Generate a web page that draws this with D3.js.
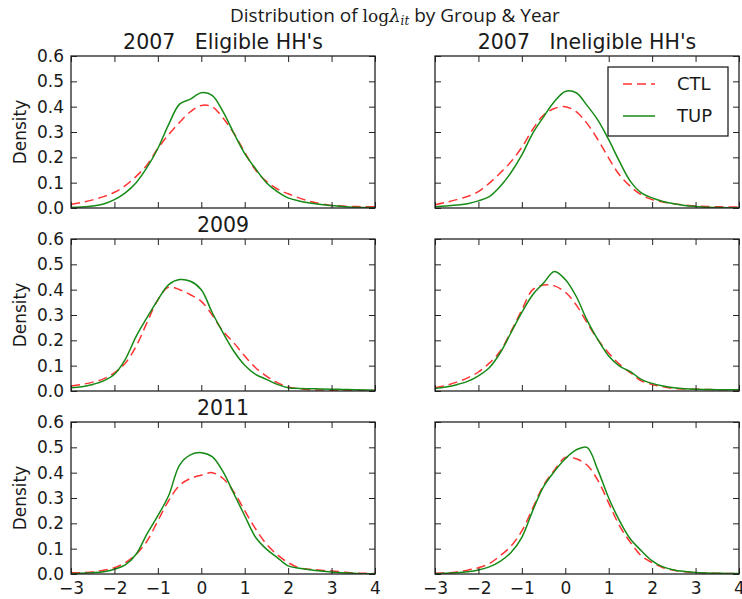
<!DOCTYPE html>
<html>
<head>
<meta charset="utf-8">
<script src="https://cdn.jsdelivr.net/npm/d3@7"></script>
<style>
  body { margin: 0; background: #fff; }
  svg { display: block; }
  text { fill: #1a1a1a; white-space: pre; }
</style>
</head>
<body>
<div id="chart"></div>
<script>
// log lambda values where the densities were read
var xs = [-3, -2.75, -2.5, -2.25, -2, -1.75, -1.5, -1.25, -1, -0.75, -0.5, -0.25, 0,
          0.25, 0.5, 0.75, 1, 1.25, 1.5, 1.75, 2, 2.25, 2.5, 2.75, 3, 3.25, 3.5, 3.75, 4];

var yTicks = [0, 0.1, 0.2, 0.3, 0.4, 0.5, 0.6];
var xTicks = [-3, -2, -1, 0, 1, 2, 3, 4];
var seriesNames = ["CTL", "TUP"];
var panelTitles = ["2007\u00a0\u00a0\u00a0Eligible HH's", "2007\u00a0\u00a0\u00a0Ineligible HH's", "2009", "", "2011", ""];

// densities, one array per group / year / arm
var ctl2007Elig = [0.015, 0.022, 0.032, 0.045, 0.062, 0.088, 0.125, 0.17, 0.235, 0.29, 0.338, 0.38, 0.405,
                   0.40, 0.355, 0.295, 0.22, 0.15, 0.105, 0.075, 0.056, 0.04, 0.026, 0.017, 0.01, 0.008, 0.006, 0.005, 0.005];
var tup2007Elig = [0.002, 0.004, 0.008, 0.016, 0.033, 0.06, 0.1, 0.16, 0.235, 0.33, 0.41, 0.43, 0.455,
                   0.445, 0.38, 0.295, 0.215, 0.155, 0.1, 0.065, 0.04, 0.028, 0.02, 0.014, 0.01, 0.006, 0.003, 0.002, 0.001];

var ctl2007Inel = [0.013, 0.022, 0.033, 0.046, 0.065, 0.098, 0.138, 0.183, 0.24, 0.31, 0.367, 0.393, 0.40,
                   0.38, 0.334, 0.27, 0.197, 0.13, 0.085, 0.052, 0.033, 0.024, 0.017, 0.012, 0.008, 0.006, 0.005, 0.004, 0.004];
var tup2007Inel = [0.005, 0.008, 0.012, 0.017, 0.028, 0.045, 0.085, 0.14, 0.21, 0.295, 0.36, 0.42, 0.46,
                   0.455, 0.405, 0.347, 0.27, 0.183, 0.105, 0.06, 0.04, 0.026, 0.017, 0.01, 0.006, 0.003, 0.002, 0.001, 0.001];

var ctl2009Elig = [0.02, 0.026, 0.035, 0.048, 0.072, 0.11, 0.177, 0.27, 0.36, 0.41, 0.40, 0.38, 0.354,
                   0.30, 0.236, 0.19, 0.138, 0.092, 0.059, 0.033, 0.016, 0.009, 0.005, 0.004, 0.003, 0.003, 0.002, 0.002, 0.002];
var tup2009Elig = [0.013, 0.017, 0.026, 0.04, 0.066, 0.125, 0.216, 0.29, 0.36, 0.42, 0.44, 0.433, 0.40,
                   0.31, 0.23, 0.157, 0.102, 0.066, 0.046, 0.026, 0.013, 0.01, 0.009, 0.008, 0.007, 0.006, 0.005, 0.004, 0.003];

var ctl2009Inel = [0.013, 0.022, 0.035, 0.052, 0.075, 0.11, 0.157, 0.235, 0.32, 0.40, 0.418, 0.415, 0.39,
                   0.34, 0.27, 0.203, 0.15, 0.105, 0.072, 0.04, 0.026, 0.017, 0.01, 0.008, 0.007, 0.006, 0.005, 0.004, 0.004];
var tup2009Inel = [0.01, 0.016, 0.025, 0.038, 0.06, 0.092, 0.15, 0.23, 0.31, 0.38, 0.426, 0.472, 0.44,
                   0.374, 0.28, 0.203, 0.138, 0.098, 0.076, 0.046, 0.03, 0.02, 0.013, 0.009, 0.007, 0.006, 0.005, 0.005, 0.005];

var ctl2011Elig = [0.005, 0.005, 0.008, 0.015, 0.025, 0.045, 0.078, 0.13, 0.21, 0.29, 0.35, 0.377, 0.39,
                   0.40, 0.377, 0.324, 0.25, 0.178, 0.118, 0.076, 0.045, 0.025, 0.019, 0.015, 0.012, 0.008, 0.004, 0.003, 0.002];
var tup2011Elig = [0.001, 0.003, 0.005, 0.009, 0.019, 0.036, 0.078, 0.158, 0.23, 0.31, 0.43, 0.47, 0.479,
                   0.463, 0.404, 0.317, 0.23, 0.145, 0.098, 0.065, 0.032, 0.023, 0.017, 0.012, 0.008, 0.005, 0.003, 0.001, 0.001];

var ctl2011Inel = [0.003, 0.004, 0.008, 0.015, 0.025, 0.041, 0.072, 0.11, 0.17, 0.26, 0.35, 0.41, 0.46,
                   0.455, 0.43, 0.37, 0.28, 0.19, 0.125, 0.072, 0.045, 0.025, 0.015, 0.009, 0.005, 0.004, 0.003, 0.002, 0.002];
var tup2011Inel = [0.001, 0.003, 0.005, 0.009, 0.016, 0.028, 0.05, 0.085, 0.145, 0.25, 0.345, 0.405, 0.455,
                   0.49, 0.5, 0.41, 0.30, 0.21, 0.138, 0.092, 0.052, 0.028, 0.016, 0.01, 0.006, 0.004, 0.003, 0.002, 0.002];

var panels = [
    [ctl2007Elig, tup2007Elig], [ctl2007Inel, tup2007Inel],
    [ctl2009Elig, tup2009Elig], [ctl2009Inel, tup2009Inel],
    [ctl2011Elig, tup2011Elig], [ctl2011Inel, tup2011Inel]
];

var W = 742, H = 599;
var colLeft = [71, 435], rowTop = [56, 239, 422];
var pw = 304, ph = 152;
var colors = ["#ff3333", "#168a16"];
var dashes = ["9,5", null];

var svg = d3.select("#chart").append("svg")
    .attr("width", W)
    .attr("height", H)
    .style("font-family", "'DejaVu Sans', sans-serif");

// suptitle with the math bit in serif
var title = svg.append("text")
    .attr("x", 230)
    .attr("y", 22)
    .style("font-family", "'Open Sans', sans-serif")
    .style("font-size", "19px");
title.append("tspan").text("Distribution of ");
title.append("tspan").style("font-family", "'DejaVu Serif', serif").style("font-size", "17px").text("log");
title.append("tspan").style("font-family", "'DejaVu Serif', serif").style("font-style", "italic").style("font-size", "18px").text("λ");
title.append("tspan").style("font-family", "'DejaVu Serif', serif").style("font-style", "italic")
    .style("font-size", "12px").attr("dy", 3).text("it");
title.append("tspan").attr("dy", -3).text(" by Group & Year");

var x = d3.scaleLinear().domain([-3, 4]).range([0, pw]);
var y = d3.scaleLinear().domain([0, 0.6]).range([ph, 0]);

var line = d3.line()
    .x(function (d, i) { return x(xs[i]); })
    .y(function (d) { return y(d); })
    .curve(d3.curveCatmullRom.alpha(0.5));

panels.forEach(function (series, p) {
    var row = Math.floor(p / 2), col = p % 2;
    var g = svg.append("g")
        .attr("transform", "translate(" + colLeft[col] + "," + rowTop[row] + ")");

    g.append("defs").append("clipPath").attr("id", "clip" + p)
        .append("rect").attr("width", pw).attr("height", ph);

    // curves
    series.forEach(function (vals, s) {
        g.append("path")
            .datum(vals)
            .attr("clip-path", "url(#clip" + p + ")")
            .attr("fill", "none")
            .attr("stroke", colors[s])
            .attr("stroke-width", 1.5)
            .attr("stroke-dasharray", dashes[s])
            .attr("d", line);
    });

    // inward ticks on all four sides
    var bottom = d3.axisBottom(x).tickValues(xTicks).tickSize(-6).tickPadding(8).tickFormat(d3.format("d"));
    if (row < 2) bottom.tickFormat("");
    g.append("g").attr("class", "ax").attr("transform", "translate(0," + ph + ")").call(bottom);
    g.append("g").attr("class", "ax").call(d3.axisTop(x).tickValues(xTicks).tickSize(-6).tickFormat(""));

    var left = d3.axisLeft(y).tickValues(yTicks).tickSize(-6).tickPadding(7).tickFormat(d3.format(".1f"));
    if (col == 1) left.tickFormat("");
    g.append("g").attr("class", "ax").call(left);
    g.append("g").attr("class", "ax").attr("transform", "translate(" + pw + ",0)")
        .call(d3.axisRight(y).tickValues(yTicks).tickSize(-6).tickFormat(""));

    g.selectAll(".ax .domain").remove();
    g.selectAll(".ax line").attr("stroke", "#222").attr("stroke-width", 1);
    g.selectAll(".ax text").style("font-size", "17px").style("font-family", "'DejaVu Sans', sans-serif").attr("fill", "#1a1a1a");

    g.append("rect")
        .attr("width", pw).attr("height", ph)
        .attr("fill", "none")
        .attr("stroke", "#222")
        .attr("stroke-width", 1.3);

    if (panelTitles[p]) {
        g.append("text")
            .attr("x", pw / 2)
            .attr("y", -7)
            .attr("text-anchor", "middle")
            .style("font-size", "20.5px")
            .text(panelTitles[p]);
    }

    if (col == 0) {
        g.append("text")
            .attr("transform", "translate(" + (20 - colLeft[0]) + "," + (ph / 2) + ") rotate(-90)")
            .attr("text-anchor", "middle")
            .attr("dy", "0.35em")
            .style("font-size", "17px")
            .text("Density");
    }

    // legend in the top right panel
    if (p == 1) {
        var lg = g.append("g").attr("transform", "translate(" + (608 - colLeft[1]) + "," + (67 - rowTop[0]) + ")");
        lg.append("rect").attr("width", 120).attr("height", 69)
            .attr("fill", "#fff").attr("stroke", "#222").attr("stroke-width", 1.3);
        seriesNames.forEach(function (name, s) {
            var ly = 17 + s * 32;
            lg.append("line")
                .attr("x1", 15).attr("x2", 47).attr("y1", ly).attr("y2", ly)
                .attr("stroke", colors[s]).attr("stroke-width", 1.5)
                .attr("stroke-dasharray", dashes[s]);
            lg.append("text")
                .attr("x", 69).attr("y", ly).attr("dy", "0.36em")
                .style("font-size", "18px")
                .text(name);
        });
    }
});
</script>
</body>
</html>
